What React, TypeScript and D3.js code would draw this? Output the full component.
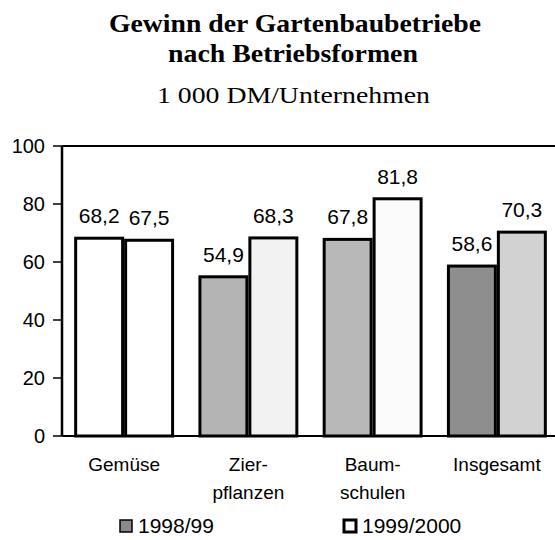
import * as d3 from 'd3';

const categories = [['Gemüse'], ['Zier-', 'pflanzen'], ['Baum-', 'schulen'], ['Insgesamt']];
const seriesNames = ['1998/99', '1999/2000'];
const values1998 = [68.2, 54.9, 67.8, 58.6];
const values1999 = [67.5, 68.3, 81.8, 70.3];
const yTicks = [0, 20, 40, 60, 80, 100];

// per-bar fills as they appear in the scanned print
const fills1998 = ['#ffffff', '#b4b4b4', '#b8b8b8', '#8e8e8e'];
const fills1999 = ['#ffffff', '#f2f2f2', '#fbfbfb', '#d2d2d2'];

const W = 555;
const H = 540;
const sans = '"Liberation Sans", Arial, sans-serif';
const serif = '"Liberation Serif", "Times New Roman", serif';

export default function App() {
  const left = 62;
  const right = 555;
  const y = d3.scaleLinear().domain([0, 100]).range([436, 146]);
  const x = d3.scaleBand<number>()
    .domain(d3.range(categories.length))
    .range([left, 559])
    .paddingInner(0.22)
    .paddingOuter(0.11);
  const xs = d3.scaleBand<number>()
    .domain([0, 1])
    .range([0, x.bandwidth()])
    .paddingInner(0.06);

  const series = [
    { values: values1998, fills: fills1998 },
    { values: values1999, fills: fills1999 },
  ];

  const fmt = (v: number) => v.toFixed(1).replace('.', ',');

  return (
    <div style={{ position: 'absolute', left: 0, top: 0 }}>
      <svg width={W} height={H} style={{ display: 'block', background: '#fff' }}>
        {/* titles */}
        <text x={295} y={32} textAnchor="middle" fontFamily={serif} fontWeight="bold" fontSize={25}
          textLength={372} lengthAdjust="spacingAndGlyphs">Gewinn der Gartenbaubetriebe</text>
        <text x={293} y={62} textAnchor="middle" fontFamily={serif} fontWeight="bold" fontSize={25}
          textLength={250} lengthAdjust="spacingAndGlyphs">nach Betriebsformen</text>
        <text x={293.5} y={103} textAnchor="middle" fontFamily={serif} fontSize={24}
          textLength={273} lengthAdjust="spacingAndGlyphs">1 000 DM/Unternehmen</text>

        {/* bars */}
        {series.map((s, si) =>
          s.values.map((v, i) => {
            const bx = x(i)! + xs(si)!;
            return (
              <g key={`${si}-${i}`}>
                <rect x={bx} y={y(v)} width={xs.bandwidth()} height={y(0) - y(v)}
                  fill={s.fills[i]} stroke="#000" strokeWidth={3} />
                <text x={bx + xs.bandwidth() / 2} y={y(v) - 15} textAnchor="middle"
                  fontFamily={sans} fontSize={21} fill="#000">{fmt(v)}</text>
              </g>
            );
          })
        )}

        {/* frame and axes */}
        <line x1={left} x2={right} y1={y(100)} y2={y(100)} stroke="#000" strokeWidth={2} />
        <line x1={left} x2={right} y1={y(0)} y2={y(0)} stroke="#000" strokeWidth={2} />
        <line x1={left} x2={left} y1={y(100)} y2={y(0)} stroke="#000" strokeWidth={2.5} />
        {yTicks.map(t => (
          <g key={t}>
            <line x1={53} x2={left} y1={y(t)} y2={y(t)} stroke="#000" strokeWidth={1.5} />
            <text x={45} y={y(t) + 7} textAnchor="end" fontFamily={sans} fontSize={20}>{t}</text>
          </g>
        ))}

        {/* category labels */}
        {categories.map((lines, i) => (
          <text key={i} textAnchor="middle" fontFamily={sans} fontSize={19}>
            {lines.map((l, li) => (
              <tspan key={li} x={x(i)! + x.bandwidth() / 2} y={471 + li * 28}>{l}</tspan>
            ))}
          </text>
        ))}

        {/* legend */}
        {seriesNames.map((n, i) => {
          const lx = i === 0 ? 120 : 344;
          return (
            <g key={n}>
              <rect x={lx} y={520} width={12} height={12}
                fill={i === 0 ? '#8a8a8a' : '#ffffff'} stroke="#000" strokeWidth={i === 0 ? 1.5 : 3} />
              <text x={lx + 18} y={533} fontFamily={sans} fontSize={21}>{n}</text>
            </g>
          );
        })}
      </svg>
    </div>
  );
}
